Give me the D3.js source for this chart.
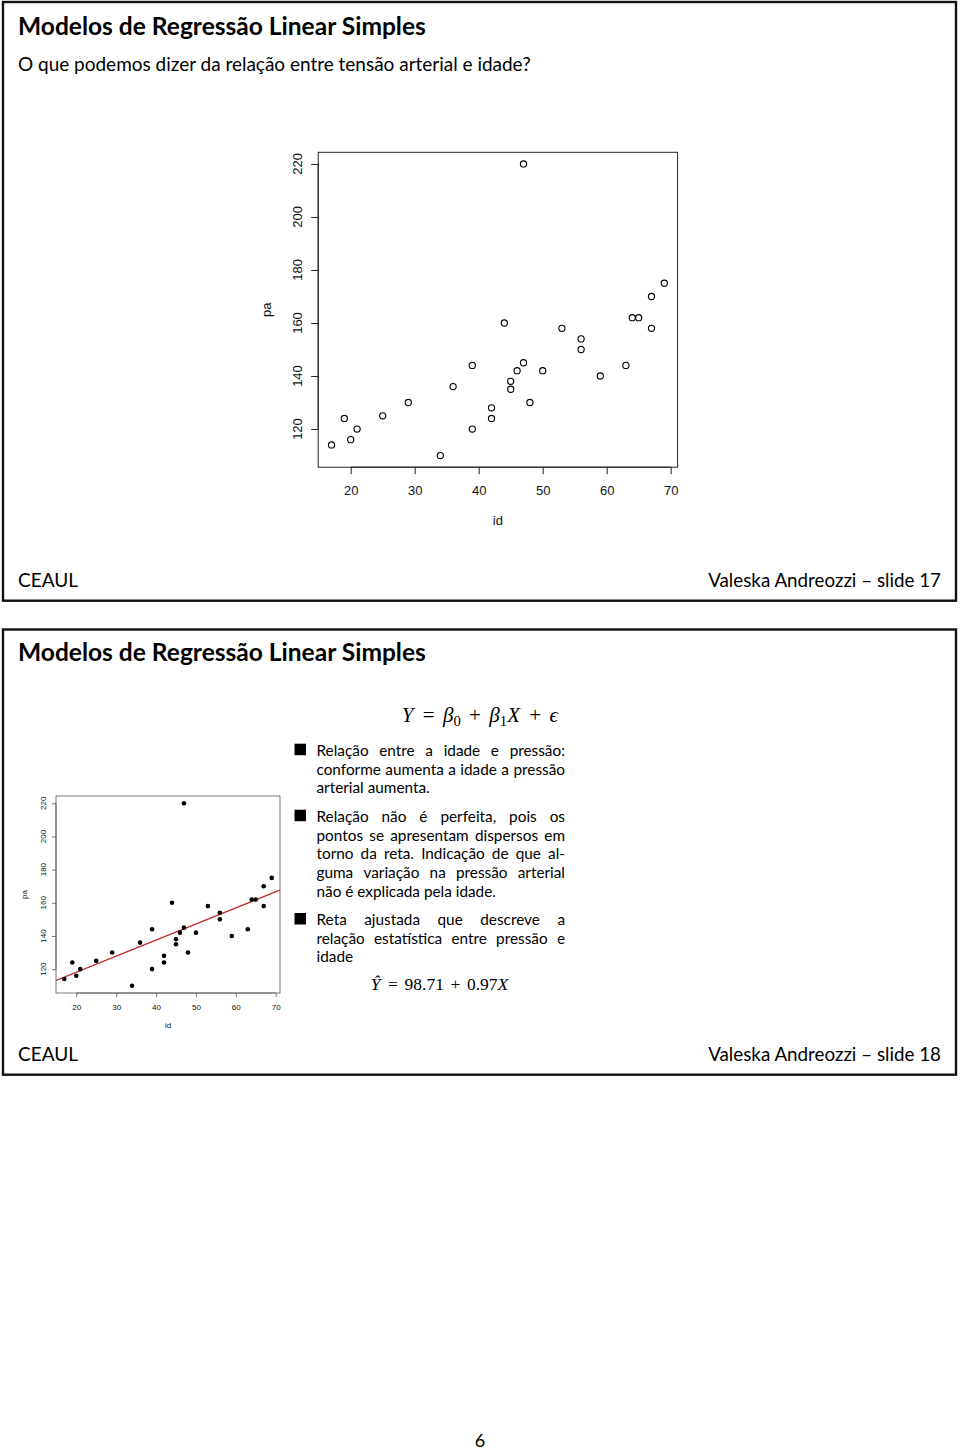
<!DOCTYPE html>
<html><head><meta charset="utf-8">
<script src="https://cdn.jsdelivr.net/npm/d3@7"></script>
<style>body{margin:0;background:#fff}text{white-space:pre}</style>
</head><body>
<script>
// ---- data ----
const idade   = [17,19,20,21,25,29,34,36,39,39,42,42,44,45,45,46,47,47,48,50,53,56,56,59,63,64,65,67,67,69];
const pressao = [114,124,116,120,125,130,110,136,144,120,128,124,160,138,135,142,145,220,130,142,158,154,150,140,144,162,162,170,158,175];
const xTicks = [20,30,40,50,60,70];
const yTicks = [120,140,160,180,200,220];
const coef = [98.71, 0.97];
const xLabel = "id", yLabel = "pa";
const slideTitle = "Modelos de Regressão Linear Simples";
const subtitle = "O que podemos dizer da relação entre tensão arterial e idade?";
const footLeft = "CEAUL";
const footRight = ["Valeska Andreozzi – slide 17", "Valeska Andreozzi – slide 18"];
const bullets = [
  ["Relação entre a idade e pressão:", "conforme aumenta a idade a pressão", "arterial aumenta."],
  ["Relação não é perfeita, pois os", "pontos se apresentam dispersos em", "torno da reta. Indicação de que al-", "guma variação na pressão arterial", "não é explicada pela idade."],
  ["Reta ajustada que descreve a", "relação estatística entre pressão e", "idade"]
];
const pageNum = "6";

const W = 960, H = 1451;
const SANS = "Lato, 'Liberation Sans', sans-serif";
const PLOTF = "'Liberation Sans', Arial, sans-serif";
const SERIF = "'Liberation Serif', 'DejaVu Serif', serif";

const svg = d3.select("body").append("svg").attr("width", W).attr("height", H)
  .style("display","block");
svg.append("rect").attr("width", W).attr("height", H).attr("fill", "#fff");

function fit(sel, target) {
  const w = sel.node().getComputedTextLength();
  const fs = parseFloat(sel.attr("font-size"));
  sel.attr("font-size", fs * target / w);
  return fs * target / w;
}

// ---- slide frames ----
svg.append("rect").attr("x",3).attr("y",2).attr("width",953).attr("height",598.7)
  .attr("fill","none").attr("stroke","#111").attr("stroke-width",2.4);
svg.append("rect").attr("x",3).attr("y",629.5).attr("width",953).attr("height",445.2)
  .attr("fill","none").attr("stroke","#111").attr("stroke-width",2.4);

// ---- slide 17 texts ----
const t1 = svg.append("text").attr("x",18).attr("y",35).attr("font-family",SANS)
  .attr("font-weight","bold").attr("font-size",22).attr("fill","#000").text(slideTitle);
fit(t1, 408);
const st = svg.append("text").attr("x",18).attr("y",71).attr("font-family",SANS)
  .attr("font-size",19).attr("fill","#000").text(subtitle);
fit(st, 513);

function footer(y, right) {
  const a = svg.append("text").attr("x",18).attr("y",y).attr("font-family",SANS)
    .attr("font-size",18).attr("fill","#000").text(footLeft);
  fit(a, 60);
  const b = svg.append("text").attr("x",941).attr("y",y).attr("text-anchor","end").attr("font-family",SANS)
    .attr("font-size",18).attr("fill","#000").text(right);
  fit(b, 233);
}
footer(587, footRight[0]);
footer(1061, footRight[1]);

// ---- scatter plot helper ----
function plot(cfg) {
  const g = svg.append("g");
  const x = d3.scaleLinear().domain([14.92, 71.08]).range([cfg.x0, cfg.x1]);
  const y = d3.scaleLinear().domain([105.6, 224.4]).range([cfg.y0, cfg.y1]);
  const clipId = "clip" + Math.round(cfg.x0);
  g.append("clipPath").attr("id", clipId).append("rect")
    .attr("x", cfg.x0).attr("y", cfg.y1).attr("width", cfg.x1 - cfg.x0).attr("height", cfg.y0 - cfg.y1);
  g.append("rect").attr("x",cfg.x0).attr("y",cfg.y1).attr("width",cfg.x1-cfg.x0).attr("height",cfg.y0-cfg.y1)
    .attr("fill","none").attr("stroke",cfg.boxColor).attr("stroke-width",cfg.lw);
  const xa = g.append("g").attr("transform",`translate(0,${cfg.y0})`)
    .call(d3.axisBottom(x).tickValues(xTicks).tickSize(cfg.tick).tickPadding(cfg.xpad).tickSizeOuter(0));
  xa.select(".domain").attr("d", `M${x(xTicks[0])},0H${x(xTicks[xTicks.length-1])}`)
    .attr("stroke",cfg.boxColor).attr("stroke-width",cfg.lw);
  xa.selectAll(".tick line").attr("stroke",cfg.boxColor).attr("stroke-width",cfg.lw);
  xa.selectAll(".tick text").attr("font-family",PLOTF).attr("font-size",cfg.fs).attr("fill","#111");
  const ya = g.append("g").attr("transform",`translate(${cfg.x0},0)`)
    .call(d3.axisLeft(y).tickValues(yTicks).tickSize(cfg.tick).tickSizeOuter(0).tickFormat(""));
  ya.select(".domain").attr("d", `M0,${y(yTicks[0])}V${y(yTicks[yTicks.length-1])}`)
    .attr("stroke",cfg.boxColor).attr("stroke-width",cfg.lw);
  ya.selectAll(".tick line").attr("stroke",cfg.boxColor).attr("stroke-width",cfg.lw);
  g.selectAll("text.ylab").data(yTicks).join("text").attr("class","ylab")
    .attr("transform", d => `translate(${cfg.ylabX},${y(d)}) rotate(-90)`)
    .attr("text-anchor","middle").attr("font-family",PLOTF).attr("font-size",cfg.fs).attr("fill","#111")
    .text(d => d);
  g.append("text").attr("x",(cfg.x0+cfg.x1)/2).attr("y",cfg.idY).attr("text-anchor","middle")
    .attr("font-family",PLOTF).attr("font-size",cfg.fs).attr("fill","#111").text(xLabel);
  g.append("text").attr("transform",`translate(${cfg.paX},${(cfg.y0+cfg.y1)/2}) rotate(-90)`)
    .attr("text-anchor","middle").attr("font-family",PLOTF).attr("font-size",cfg.fs).attr("fill","#111").text(yLabel);
  if (cfg.line) {
    const xd = x.domain();
    g.append("line").attr("clip-path",`url(#${clipId})`)
      .attr("x1", x(xd[0])).attr("y1", y(coef[0] + coef[1]*xd[0]))
      .attr("x2", x(xd[1])).attr("y2", y(coef[0] + coef[1]*xd[1]))
      .attr("stroke","#c4262e").attr("stroke-width",1.4);
  }
  g.selectAll("circle").data(idade).join("circle")
    .attr("cx", d => x(d)).attr("cy", (d,i) => y(pressao[i])).attr("r", cfg.r)
    .attr("fill", cfg.filled ? "#000" : "none").attr("stroke","#000").attr("stroke-width", cfg.filled ? 0 : 1.1);
}

plot({x0:318.2, x1:677.6, y0:467.2, y1:152.3, tick:7, xpad:12, fs:13, ylabX:302, idY:525, paX:271,
      boxColor:"#222", lw:1, r:3.1, filled:false, line:false});
plot({x0:56, x1:280, y0:993, y1:796, tick:4, xpad:7.5, fs:8, ylabX:45.5, idY:1028, paX:26.5,
      boxColor:"#555", lw:0.8, r:2.3, filled:true, line:true});

// ---- slide 18 texts ----
const t2 = svg.append("text").attr("x",18).attr("y",661).attr("font-family",SANS)
  .attr("font-weight","bold").attr("font-size",22).attr("fill","#000").text(slideTitle);
fit(t2, 408);

// math line: pieces laid out, operator gaps stretched to fill [x0,x1]
function mathLine(x0, x1, y, fs, pieces) {
  const items = pieces.map(p => {
    const s = p.sub ? fs * 0.7 : fs;
    const t = svg.append("text").attr("y", p.sub ? y + fs * 0.2 : y).attr("font-family", SERIF)
      .attr("font-size", s).attr("font-style", p.i ? "italic" : "normal").attr("fill","#000").text(p.t);
    return {t, w: t.node().getComputedTextLength(), op: !!p.op, pad: p.pad || 0};
  });
  const nOps = items.filter(d => d.op).length;
  const total = d3.sum(items, d => d.w + d.pad);
  const gap = (x1 - x0 - total) / (2 * nOps);
  let xx = x0;
  items.forEach(d => {
    if (d.op) xx += gap;
    d.t.attr("x", xx);
    xx += d.w + d.pad;
    if (d.op) xx += gap;
  });
}
mathLine(401.7, 558, 721.5, 21, [
  {t:"Y", i:true, pad:1}, {t:"=", op:true}, {t:"β", i:true}, {t:"0", sub:true},
  {t:"+", op:true}, {t:"β", i:true}, {t:"1", sub:true}, {t:"X", i:true, pad:1},
  {t:"+", op:true}, {t:"ϵ", i:true}
]);

// bullets
const TX0 = 316.5, TX1 = 565;
let bodyFs = 16;
{
  const widths = [];
  bullets.forEach(lines => lines.forEach((l, li) => {
    if (li < lines.length - 1) {
      const p = svg.append("text").attr("font-family",SANS).attr("font-size",16).text(l);
      widths.push(p.node().getComputedTextLength()); p.remove();
    }
  }));
  const lastP = svg.append("text").attr("font-family",SANS).attr("font-size",16).text("não é explicada pela idade.");
  const lw = lastP.node().getComputedTextLength(); lastP.remove();
  bodyFs = Math.min(16 * 246 / d3.max(widths), 16 * 184 / lw);
}
const spProbe = svg.append("text").attr("font-family",SANS).attr("font-size",bodyFs).text("a a");
const spProbe2 = svg.append("text").attr("font-family",SANS).attr("font-size",bodyFs).text("aa");
const spaceW = spProbe.node().getComputedTextLength() - spProbe2.node().getComputedTextLength();
spProbe.remove(); spProbe2.remove();

const baselines = [[755.7,774.5,793.3],[821.7,840.5,859.3,878,896.7],[925,943.6,962.3]];
bullets.forEach((lines, bi) => {
  svg.append("rect").attr("x",294.5).attr("y",baselines[bi][0]-12).attr("width",11.5).attr("height",11.5).attr("fill","#000");
  lines.forEach((line, li) => {
    const yb = baselines[bi][li];
    const last = li === lines.length - 1;
    const words = line.split(" ");
    const nodes = words.map(w => svg.append("text").attr("y",yb).attr("font-family",SANS)
      .attr("font-size",bodyFs).attr("fill","#000").text(w));
    const widths = nodes.map(n => n.node().getComputedTextLength());
    const total = d3.sum(widths);
    const gap = (!last && words.length > 1) ? (TX1 - TX0 - total) / (words.length - 1) : spaceW;
    let xx = TX0;
    nodes.forEach((n, i) => { n.attr("x", xx); xx += widths[i] + gap; });
  });
});

// fitted equation
mathLine(370.7, 508.3, 990, 17.5, [
  {t:"Ŷ", i:true, pad:1}, {t:"=", op:true}, {t:String(coef[0])},
  {t:"+", op:true}, {t:String(coef[1])}, {t:"X", i:true}
]);

// page number
svg.append("text").attr("x",480).attr("y",1447).attr("text-anchor","middle").attr("font-family",SANS)
  .attr("font-size",18).attr("fill","#000").text(pageNum);
</script>
</body></html>
